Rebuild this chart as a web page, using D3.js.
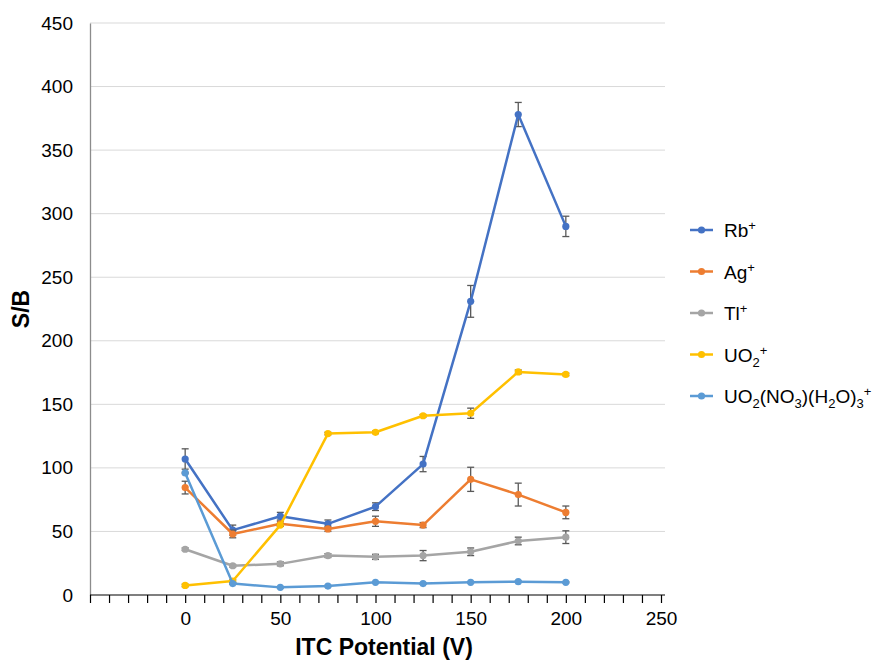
<!DOCTYPE html>
<html>
<head>
<meta charset="utf-8">
<script src="https://cdn.jsdelivr.net/npm/d3@7"></script>
<style>
  body { margin: 0; background: #fff; }
  svg { display: block; font-family: "Liberation Sans", Arial, sans-serif; }
</style>
</head>
<body>
<svg id="chart" width="878" height="660"></svg>
<script>
// ITC potential settings (V)
const potentials = [0, 25, 50, 75, 100, 125, 150, 175, 200];

// S/B values per ion and their error bars
const rbValues   = [107, 51, 62, 56, 69.5, 103, 231, 378, 290];
const rbErrors   = [8, 4, 3, 3, 3, 6, 12.5, 9.5, 8];
const agValues   = [84.5, 48, 56, 52, 58, 55, 91, 79, 65];
const agErrors   = [5, 3, 2, 2, 4, 2, 9.5, 9, 5];
const tlValues   = [36, 23, 24.5, 31, 30, 31, 34, 42.5, 45.5];
const tlErrors   = [1, 1, 1.5, 1.5, 2, 4, 3, 3, 5];
const uo2Values  = [7.5, 11, 55, 127, 128, 141, 143, 175.5, 173.5];
const uo2Errors  = [1, 1, 1, 1, 1, 1, 4, 1.5, 1];
const uo2nValues = [96, 9, 6, 7, 10, 9, 10, 10.5, 10];
const uo2nErrors = [0.5, 0.5, 0.5, 0.5, 0.5, 0.5, 0.5, 0.5, 0.5];

const xTickLabels = [0, 50, 100, 150, 200, 250];
const yTickLabels = [0, 50, 100, 150, 200, 250, 300, 350, 400, 450];

const series = [
  { name: "Rb", parts: [["Rb",""],["+","sup"]], values: rbValues, errors: rbErrors, color: "#4472C4" },
  { name: "Ag", parts: [["Ag",""],["+","sup"]], values: agValues, errors: agErrors, color: "#ED7D31" },
  { name: "Tl", parts: [["Tl",""],["+","sup"]], values: tlValues, errors: tlErrors, color: "#A5A5A5" },
  { name: "UO2", parts: [["UO",""],["2","sub"],["+","sup"]], values: uo2Values, errors: uo2Errors, color: "#FFC000" },
  { name: "UO2NO3", parts: [["UO",""],["2","sub"],["(NO",""],["3","sub"],[")(H",""],["2","sub"],["O)",""],["3","sub"],["+","sup"]], values: uo2nValues, errors: uo2nErrors, color: "#5B9BD5" }
];

const svg = d3.select("#chart");
const plotLeft = 90, plotRight = 661, plotTop = 23, plotBottom = 595;

const x = d3.scaleLinear().domain([-50, 250]).range([plotLeft, plotRight]);
const y = d3.scaleLinear().domain([0, 450]).range([plotBottom, plotTop]);

// horizontal gridlines
svg.append("g")
  .selectAll("line")
  .data(yTickLabels.filter(d => d > 0))
  .join("line")
  .attr("x1", plotLeft).attr("x2", plotRight + 4)
  .attr("y1", d => y(d)).attr("y2", d => y(d))
  .attr("stroke", "#d9d9d9").attr("stroke-width", 1);

// y axis
const yAxis = svg.append("g")
  .attr("transform", `translate(${plotLeft},0)`)
  .call(d3.axisLeft(y).tickValues(yTickLabels).tickSize(0).tickPadding(17));
yAxis.select(".domain").attr("stroke", "#8c8c8c").attr("stroke-width", 1.3);
yAxis.selectAll("text").attr("font-size", 19).attr("fill", "#000")
  .attr("font-family", "Liberation Sans, Arial, sans-serif");

// x axis: minor ticks every 10 V, labels every 50 V from 0
const xAxis = svg.append("g")
  .attr("transform", `translate(0,${plotBottom})`)
  .call(d3.axisBottom(x).tickValues(d3.range(-50, 251, 10)).tickSize(8)
    .tickFormat(d => xTickLabels.includes(d) ? d : "").tickPadding(9));
xAxis.select(".domain").attr("stroke", "#000").attr("stroke-width", 1.2).attr("d", `M${plotLeft},0H${plotRight + 4}`);
xAxis.selectAll(".tick line").attr("stroke", "#000").attr("stroke-width", 1.2);
xAxis.selectAll("text").attr("font-size", 19).attr("fill", "#000")
  .attr("font-family", "Liberation Sans, Arial, sans-serif");

// axis titles
svg.append("text")
  .attr("transform", `translate(29,${(plotTop + plotBottom) / 2}) rotate(-90)`)
  .attr("text-anchor", "middle")
  .attr("font-size", 23).attr("font-weight", "bold")
  .text("S/B");
svg.append("text")
  .attr("x", 384).attr("y", 655)
  .attr("text-anchor", "middle")
  .attr("font-size", 23).attr("font-weight", "bold")
  .text("ITC Potential (V)");

const line = d3.line().x(d => x(d.p)).y(d => y(d.v));

series.forEach(s => {
  const pts = potentials.map((p, i) => ({ p, v: s.values[i], e: s.errors[i] }));
  const g = svg.append("g");
  // error bars
  const eb = g.append("g").attr("stroke", "#595959").attr("stroke-width", 1.3);
  pts.forEach(d => {
    eb.append("line").attr("x1", x(d.p)).attr("x2", x(d.p))
      .attr("y1", y(d.v - d.e)).attr("y2", y(d.v + d.e));
    [d.v - d.e, d.v + d.e].forEach(v => {
      eb.append("line").attr("x1", x(d.p) - 3.5).attr("x2", x(d.p) + 3.5)
        .attr("y1", y(v)).attr("y2", y(v));
    });
  });
  g.append("path").datum(pts)
    .attr("d", line)
    .attr("fill", "none").attr("stroke", s.color)
    .attr("stroke-width", 2.5).attr("stroke-linejoin", "round");
  g.selectAll("circle").data(pts).join("circle")
    .attr("cx", d => x(d.p)).attr("cy", d => y(d.v))
    .attr("r", 3.6).attr("fill", s.color);
});

// legend
const legend = svg.append("g");
series.forEach((s, i) => {
  const ly = 230 + i * 41.5;
  legend.append("line").attr("x1", 690).attr("x2", 713)
    .attr("y1", ly).attr("y2", ly)
    .attr("stroke", s.color).attr("stroke-width", 2.5);
  legend.append("circle").attr("cx", 701.5).attr("cy", ly).attr("r", 3.6).attr("fill", s.color);
  const t = legend.append("text").attr("x", 724).attr("y", ly + 7).attr("font-size", 19).attr("fill", "#000");
  let shift = 0;
  s.parts.forEach(([txt, kind]) => {
    const target = kind === "sup" ? -7 : kind === "sub" ? 5 : 0;
    const ts = t.append("tspan").attr("dy", target - shift).text(txt);
    if (kind) ts.attr("font-size", 13);
    shift = target;
  });
});
</script>
</body>
</html>
